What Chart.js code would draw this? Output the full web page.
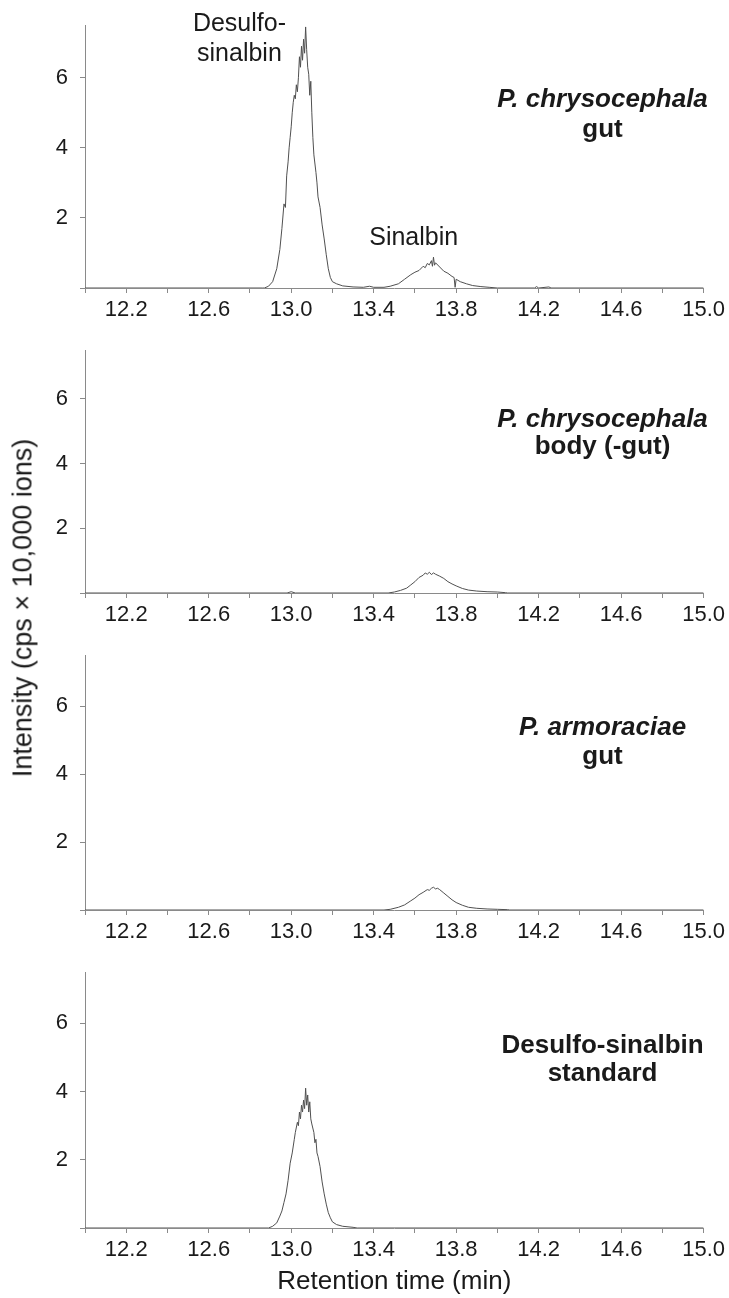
<!DOCTYPE html>
<html>
<head>
<meta charset="utf-8">
<script src="https://cdn.jsdelivr.net/npm/chart.js@4.4.1/dist/chart.umd.min.js"></script>
<style>
  body { margin: 0; background: #fff; }
  #wrap { position: relative; width: 729px; height: 1298px; overflow: hidden; }
  .panel { position: absolute; left: 0; }
  #ylabel {
    position: absolute; left: 23px; top: 608px;
    transform: translate(-50%, -50%) rotate(-90deg);
    white-space: nowrap;
    font: 27px "Liberation Sans", Arial, sans-serif; color: #1a1a1a;
  }
</style>
</head>
<body>
<div id="wrap">
  <canvas class="panel" id="p1" width="729" height="325" style="top:0px"></canvas>
  <canvas class="panel" id="p2" width="729" height="305" style="top:325px"></canvas>
  <canvas class="panel" id="p3" width="729" height="317" style="top:630px"></canvas>
  <canvas class="panel" id="p4" width="729" height="351" style="top:947px"></canvas>
  <div id="ylabel">Intensity (cps × 10,000 ions)</div>
</div>
<script>
// axes
const xTicks = [12.0, 12.2, 12.4, 12.6, 12.8, 13.0, 13.2, 13.4, 13.6, 13.8, 14.0, 14.2, 14.4, 14.6, 14.8, 15.0];
const xTickLabels = ['12.2', '12.6', '13.0', '13.4', '13.8', '14.2', '14.6', '15.0'];
const yTicks = [0, 2, 4, 6];
const yTickLabels = ['', '2', '4', '6'];

// P. chrysocephala gut
const gutTime = [12.0, 12.86, 12.87, 12.89, 12.91, 12.93, 12.945, 12.955, 12.965, 12.972, 12.978, 12.985, 12.99, 12.995,
  13.0, 13.005, 13.01, 13.015, 13.02, 13.025, 13.03, 13.035, 13.04, 13.045, 13.05, 13.055, 13.06, 13.065, 13.07,
  13.075, 13.08, 13.085, 13.09, 13.095, 13.1, 13.105, 13.11, 13.12, 13.125, 13.13, 13.14, 13.15, 13.16, 13.17,
  13.18, 13.19, 13.2, 13.22, 13.25, 13.3, 13.35, 13.38, 13.4, 13.45, 13.48, 13.52, 13.55, 13.58, 13.6, 13.62,
  13.64, 13.65, 13.66, 13.67, 13.68, 13.685, 13.69, 13.695, 13.7, 13.72, 13.74, 13.76, 13.78, 13.79, 13.795,
  13.8, 13.82, 13.85, 13.88, 13.92, 13.96, 14.0, 14.18, 14.19, 14.2, 14.25, 14.26, 15.0];
const gutIntensity = [0, 0, 0.0, 0.05, 0.18, 0.55, 1.1, 1.7, 2.4, 2.3, 3.2, 3.6, 4.0, 4.3,
  4.6, 5.0, 5.3, 5.5, 5.4, 5.8, 5.6, 6.0, 6.6, 6.3, 6.9, 6.5, 7.1, 6.7, 7.45,
  6.8, 6.3, 6.1, 5.5, 5.9, 5.0, 4.3, 3.8, 3.3, 3.0, 2.6, 2.3, 1.8, 1.4, 0.95,
  0.55, 0.3, 0.18, 0.12, 0.06, 0.03, 0.02, 0.05, 0.02, 0.02, 0.05, 0.12, 0.25, 0.38, 0.45, 0.5,
  0.62, 0.58, 0.7, 0.66, 0.78, 0.62, 0.88, 0.65, 0.72, 0.6, 0.48, 0.42, 0.33, 0.3, 0.02,
  0.25, 0.18, 0.12, 0.07, 0.04, 0.02, 0, 0, 0.04, 0, 0.03, 0, 0];

// P. chrysocephala body (-gut)
const bodyTime = [12.0, 12.98, 13.0, 13.02, 13.47, 13.5, 13.53, 13.56, 13.58, 13.6, 13.62, 13.64, 13.65, 13.66,
  13.67, 13.68, 13.69, 13.7, 13.72, 13.74, 13.76, 13.78, 13.8, 13.83, 13.86, 13.9, 13.95, 14.0, 14.04, 14.05, 15.0];
const bodyIntensity = [0, 0, 0.04, 0, 0, 0.03, 0.08, 0.15, 0.25, 0.35, 0.48, 0.55, 0.62, 0.58,
  0.64, 0.57, 0.62, 0.58, 0.52, 0.45, 0.35, 0.28, 0.22, 0.14, 0.09, 0.06, 0.04, 0.03, 0.01, 0, 0];

// P. armoraciae gut
const armTime = [12.0, 13.45, 13.48, 13.52, 13.55, 13.58, 13.6, 13.62, 13.64, 13.66, 13.67, 13.68, 13.69, 13.7,
  13.71, 13.72, 13.74, 13.76, 13.78, 13.8, 13.83, 13.86, 13.9, 13.95, 14.0, 14.05, 14.06, 15.0];
const armIntensity = [0, 0, 0.02, 0.08, 0.15, 0.27, 0.35, 0.45, 0.52, 0.6, 0.58, 0.64, 0.67, 0.62,
  0.64, 0.6, 0.5, 0.4, 0.3, 0.22, 0.14, 0.08, 0.05, 0.03, 0.02, 0.01, 0, 0];

// Desulfo-sinalbin standard
const stdTime = [12.0, 12.89, 12.91, 12.93, 12.945, 12.955, 12.965, 12.975, 12.985, 12.995, 13.005, 13.015, 13.02,
  13.03, 13.035, 13.04, 13.045, 13.05, 13.055, 13.06, 13.065, 13.07, 13.075, 13.08, 13.085, 13.09, 13.095, 13.1,
  13.11, 13.115, 13.12, 13.125, 13.13, 13.14, 13.15, 13.16, 13.17, 13.18, 13.19, 13.2, 13.22, 13.25, 13.3, 13.32, 15.0];
const stdIntensity = [0, 0, 0.05, 0.15, 0.35, 0.5, 0.75, 1.0, 1.4, 1.9, 2.2, 2.6, 2.8,
  3.1, 3.0, 3.4, 3.2, 3.6, 3.4, 3.75, 3.5, 4.1, 3.6, 3.9, 3.4, 3.7, 3.2, 3.05,
  2.8, 2.5, 2.6, 2.2, 2.1, 1.8, 1.35, 1.0, 0.7, 0.45, 0.3, 0.18, 0.1, 0.05, 0.02, 0, 0];

const FONT = '"Liberation Sans", Arial, sans-serif';
const axisGrey = '#8a8a8a';
const textCol = '#1a1a1a';

// draws panel names and peak names at data positions
const notesPlugin = {
    id: 'notes',
    afterDraw(chart, args, opts) {
        const { ctx } = chart;
        const x = chart.scales.x, y = chart.scales.y;
        ctx.save();
        ctx.textAlign = 'center';
        ctx.textBaseline = 'middle';
        ctx.fillStyle = textCol;
        (opts.items || []).forEach(it => {
            ctx.font = it.font;
            ctx.fillText(it.text, x.getPixelForValue(it.x), y.getPixelForValue(it.y));
        });
        ctx.restore();
    }
};

function pairs(xs, ys) {
    return xs.map((v, i) => ({ x: v, y: ys[i] }));
}

function makePanel(id, xs, ys, opt) {
    const ctx = document.getElementById(id).getContext('2d');
    return new Chart(ctx, {
        type: 'scatter',
        data: {
            datasets: [{
                data: pairs(xs, ys),
                showLine: true,
                borderColor: '#505050',
                borderWidth: 1,
                pointRadius: 0,
                tension: 0,
            }],
        },
        options: {
            responsive: false,
            animation: false,
            layout: { padding: { top: opt.padTop, right: 23, left: 0, bottom: 0 } },
            plugins: {
                legend: { display: false },
                tooltip: { enabled: false },
                notes: { items: opt.notes },
            },
            scales: {
                x: {
                    type: 'linear',
                    min: 12.0,
                    max: 15.0,
                    afterBuildTicks: s => { s.ticks = xTicks.map(v => ({ value: v })); },
                    afterFit: s => { s.height = opt.xHeight; },
                    grid: { drawOnChartArea: false, drawTicks: true, tickLength: 5, color: axisGrey },
                    border: { display: true, color: axisGrey, width: 1 },
                    ticks: {
                        autoSkip: false,
                        maxRotation: 0,
                        padding: 4,
                        color: textCol,
                        font: { family: FONT, size: 22 },
                        callback: v => {
                            const t = Number(v).toFixed(1);
                            return xTickLabels.includes(t) ? t : '';
                        },
                    },
                    title: opt.xTitle ? {
                        display: true,
                        text: 'Retention time (min)',
                        color: textCol,
                        font: { family: FONT, size: 26 },
                        padding: { top: 0, bottom: 1 },
                    } : { display: false },
                },
                y: {
                    min: 0,
                    max: 7.5,
                    afterBuildTicks: s => { s.ticks = yTicks.map(v => ({ value: v })); },
                    afterFit: s => { s.width = 85; },
                    grid: { drawOnChartArea: false, drawTicks: true, tickLength: 5, color: axisGrey },
                    border: { display: true, color: axisGrey, width: 1 },
                    ticks: {
                        padding: 12,
                        color: textCol,
                        font: { family: FONT, size: 22 },
                        callback: v => yTickLabels[yTicks.indexOf(v)] || '',
                    },
                },
            },
        },
        plugins: [notesPlugin],
    });
}

const boldIt = 'italic bold 26px ' + FONT;
const bold = 'bold 26px ' + FONT;
const plain = '25px ' + FONT;

makePanel('p1', gutTime, gutIntensity, {
    padTop: 23, xHeight: 37,
    notes: [
        { text: 'Desulfo-', x: 12.749, y: 7.53, font: plain },
        { text: 'sinalbin', x: 12.749, y: 6.68, font: plain },
        { text: 'Sinalbin', x: 13.594, y: 1.42, font: plain },
        { text: 'P. chrysocephala', x: 14.51, y: 5.38, font: boldIt },
        { text: 'gut', x: 14.51, y: 4.52, font: bold },
    ],
});
makePanel('p2', bodyTime, bodyIntensity, {
    padTop: 3, xHeight: 37,
    notes: [
        { text: 'P. chrysocephala', x: 14.51, y: 5.35, font: boldIt },
        { text: 'body (-gut)', x: 14.51, y: 4.52, font: bold },
    ],
});
makePanel('p3', armTime, armIntensity, {
    padTop: 15, xHeight: 37,
    notes: [
        { text: 'P. armoraciae', x: 14.51, y: 5.35, font: boldIt },
        { text: 'gut', x: 14.51, y: 4.52, font: bold },
    ],
});
makePanel('p4', stdTime, stdIntensity, {
    padTop: 18, xHeight: 70, xTitle: true,
    notes: [
        { text: 'Desulfo-sinalbin', x: 14.51, y: 5.35, font: bold },
        { text: 'standard', x: 14.51, y: 4.52, font: bold },
    ],
});
</script>
</body>
</html>
